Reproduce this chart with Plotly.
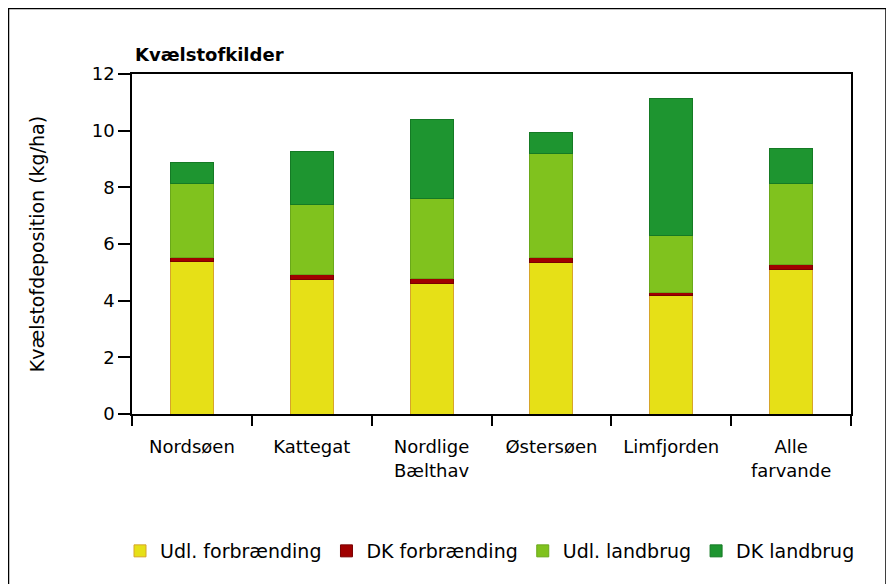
import plotly.graph_objs as go

# Kvælstofdeposition per farvand (kg/ha)
farvande = ["Nordsøen", "Kattegat", "Nordlige<br>Bælthav", "Østersøen", "Limfjorden", "Alle<br>farvande"]
udl_forbraending = [5.37, 4.73, 4.59, 5.33, 4.17, 5.11]
dk_forbraending = [0.17, 0.21, 0.21, 0.21, 0.13, 0.17]
udl_landbrug = [2.61, 2.44, 2.82, 3.64, 1.99, 2.84]
dk_landbrug = [0.71, 1.90, 2.79, 0.74, 4.85, 1.26]

serier = [
    ("Udl. forbrænding", udl_forbraending, "#e6e017", "#d6a52a"),
    ("DK forbrænding", dk_forbraending, "#a00000", "#7a0000"),
    ("Udl. landbrug", udl_landbrug, "#80c21e", "#6aa81a"),
    ("DK landbrug", dk_landbrug, "#1e9530", "#157a25"),
]

fig = go.Figure()
for navn, vaerdier, farve, kant in serier:
    fig.add_trace(go.Bar(x=farvande, y=vaerdier, name=navn,
                         marker=dict(color=farve, line=dict(color=kant, width=1)),
                         width=0.36))

# siden har 8px kant, saa figuren er 886x576 og alt er flyttet 8px
FW, FH = 886, 576
L, R, T, B = 124, 843, 66, 406
W, H = R - L, B - T

fig.update_layout(
    barmode="stack",
    width=FW, height=FH,
    margin=dict(l=L, r=FW - R, t=T, b=FH - B),
    paper_bgcolor="white", plot_bgcolor="white",
    font=dict(family="DejaVu Sans, sans-serif", size=18, color="black"),
    showlegend=True,
    legend=dict(orientation="h", x=(112 - L) / W, xanchor="left", y=(B - 543) / H, yanchor="middle",
                font=dict(size=19), traceorder="normal", itemwidth=30),
    annotations=[dict(text="<b>Kvælstofkilder</b>", xref="paper", yref="paper",
                      x=(125 - L) / W, y=(B - 47) / H, xanchor="left", yanchor="middle",
                      showarrow=False, font=dict(size=18))],
    shapes=[dict(type="rect", xref="paper", yref="paper",
                 x0=(0.5 - L) / W, x1=(878 - L) / W, y0=(B - 600) / H, y1=(B - 0.5) / H,
                 line=dict(color="black", width=1.5))],
)

fig.update_xaxes(showline=True, linecolor="black", linewidth=1.5, mirror=True,
                 ticks="outside", tickson="boundaries", ticklen=10, tickcolor="black",
                 tickwidth=1.5, showgrid=False, tickfont=dict(size=18), ticklabelstandoff=16)
fig.update_yaxes(range=[0, 12], dtick=2, showline=True, linecolor="black", linewidth=1.5,
                 mirror=True, ticks="outside", ticklen=12, tickcolor="black", tickwidth=1.5,
                 showgrid=False, zeroline=False, tickfont=dict(size=18),
                 title=dict(text="Kvælstofdeposition (kg/ha)", font=dict(size=19), standoff=42))

fig.write_html("out.html")
